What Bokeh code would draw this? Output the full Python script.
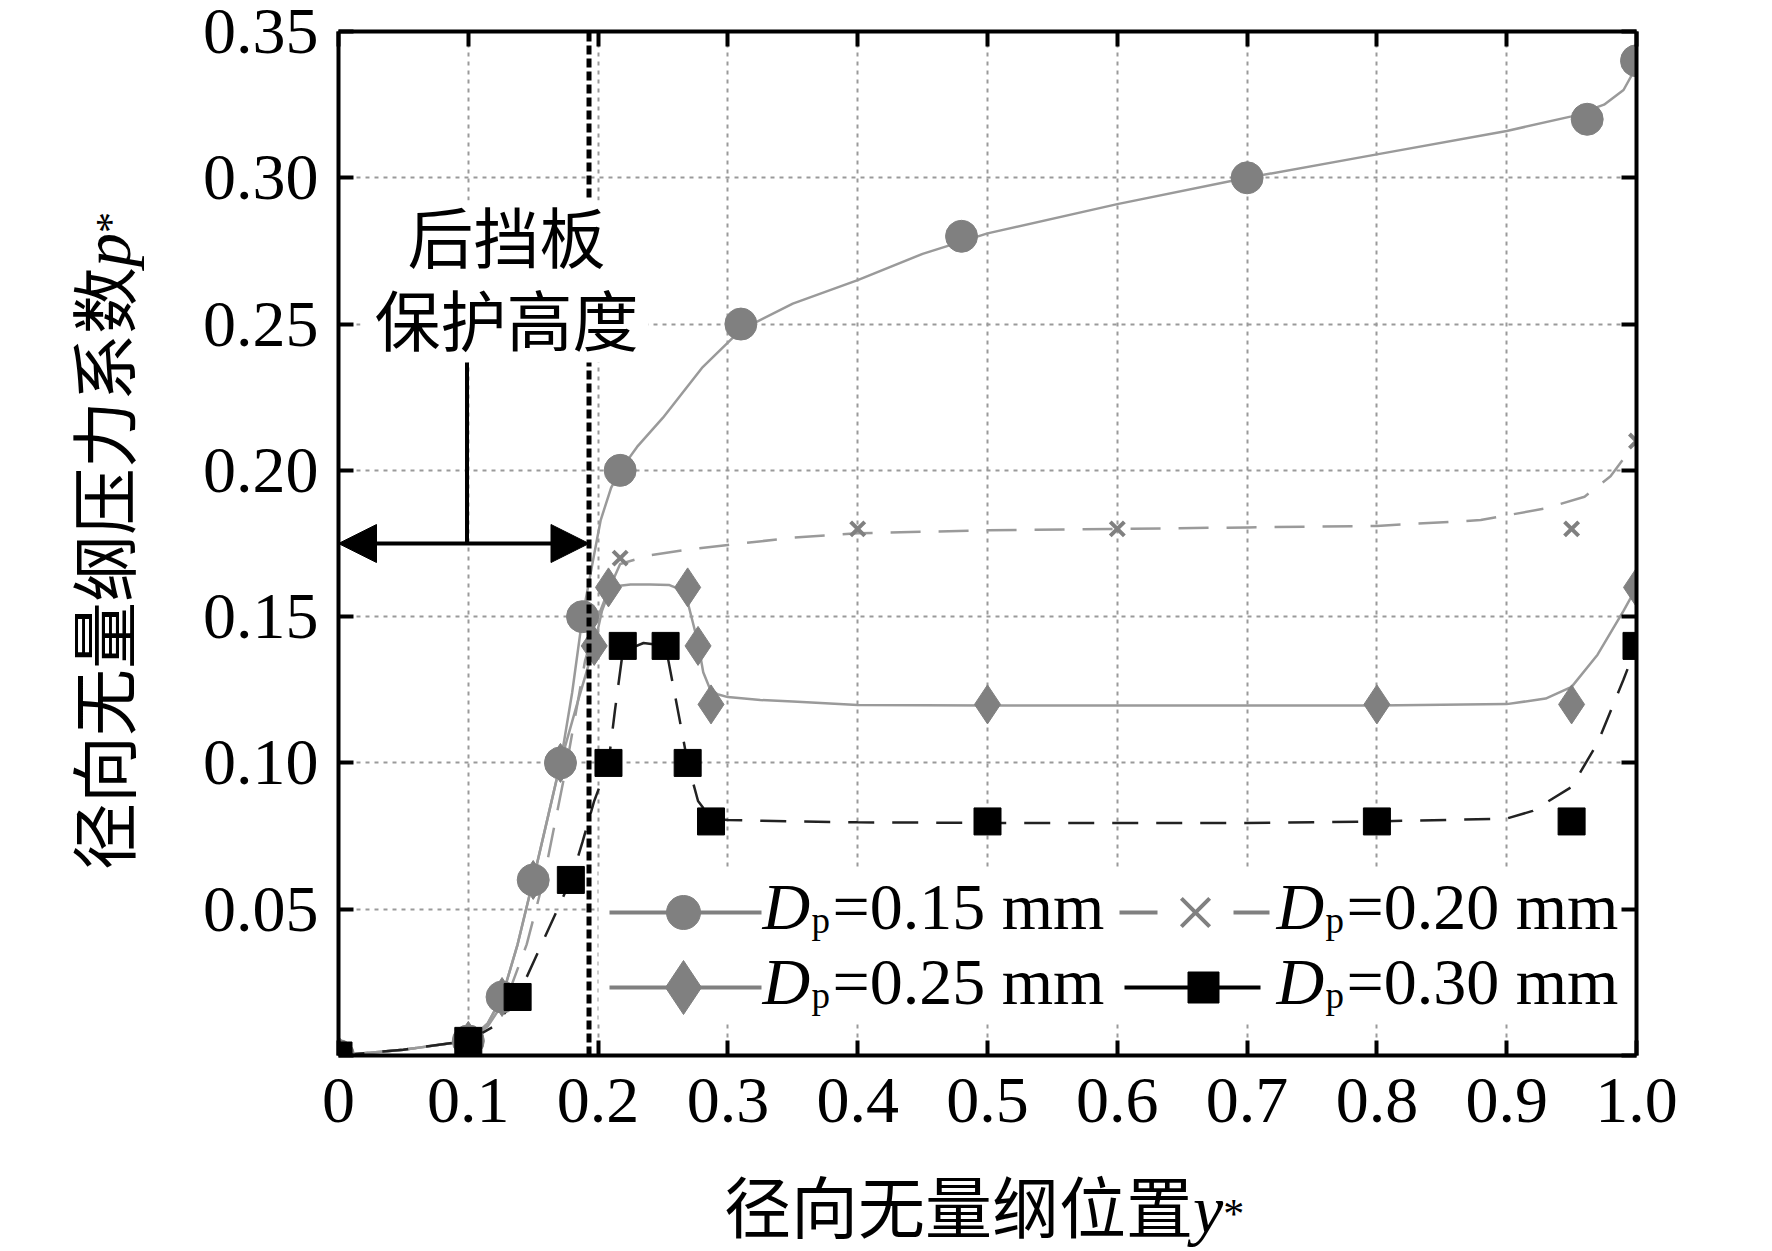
import math
from bokeh.plotting import figure
from bokeh.models import (Range1d, FixedTicker, LinearAxis, Label, Arrow,
                          NormalHead, CustomJSTickFormatter, Div)
from bokeh.layouts import row, column
from bokeh.embed import file_html
from bokeh.resources import INLINE

# ---------------- data ----------------
# marker points  (radial dimensionless position y*, pressure coefficient p*)
pos_015 = [0.0, 0.1, 0.126, 0.150, 0.171, 0.188, 0.217, 0.31, 0.48, 0.70, 0.962, 1.0]
val_015 = [0.0, 0.005, 0.020, 0.060, 0.100, 0.150, 0.200, 0.250, 0.280, 0.300, 0.320, 0.340]

pos_020 = [0.0, 0.1, 0.126, 0.150, 0.171, 0.217, 0.40, 0.60, 0.95, 1.0]
val_020 = [0.0, 0.005, 0.020, 0.060, 0.100, 0.170, 0.180, 0.180, 0.180, 0.210]

pos_025 = [0.0, 0.1, 0.126, 0.150, 0.171, 0.197, 0.208, 0.269, 0.277, 0.287, 0.50, 0.80, 0.95, 1.0]
val_025 = [0.0, 0.005, 0.020, 0.060, 0.100, 0.140, 0.160, 0.160, 0.140, 0.120, 0.120, 0.120, 0.120, 0.160]

pos_030 = [0.0, 0.1, 0.138, 0.179, 0.208, 0.219, 0.252, 0.269, 0.287, 0.50, 0.80, 0.95, 1.0]
val_030 = [0.0, 0.005, 0.020, 0.060, 0.100, 0.140, 0.140, 0.100, 0.080, 0.080, 0.080, 0.080, 0.140]

# fitted curves
curve_x_015 = [0, 0.05, 0.1, 0.115, 0.126, 0.138, 0.15, 0.16, 0.171, 0.18, 0.188, 0.196, 0.202,
               0.21, 0.217, 0.23, 0.25, 0.28, 0.31, 0.35, 0.40, 0.45, 0.50, 0.60, 0.70, 0.80,
               0.90, 0.95, 0.975, 0.99, 1.0]
curve_y_015 = [0, 0.002, 0.005, 0.011, 0.02, 0.038, 0.06, 0.079, 0.10, 0.124, 0.15, 0.169, 0.183,
               0.194, 0.20, 0.208, 0.218, 0.235, 0.248, 0.257, 0.265, 0.274, 0.281, 0.291, 0.300,
               0.308, 0.316, 0.321, 0.325, 0.330, 0.338]

curve_x_020 = [0, 0.05, 0.1, 0.115, 0.13, 0.145, 0.158, 0.176, 0.19, 0.2, 0.207, 0.212, 0.217,
               0.24, 0.27, 0.30, 0.35, 0.40, 0.50, 0.60, 0.70, 0.80, 0.88, 0.93, 0.96, 0.98, 1.0]
curve_y_020 = [0, 0.002, 0.005, 0.01, 0.02, 0.038, 0.06, 0.10, 0.135, 0.150, 0.158, 0.163, 0.168,
               0.171, 0.173, 0.1745, 0.177, 0.1785, 0.1795, 0.1800, 0.1805, 0.1810, 0.1830,
               0.1870, 0.1910, 0.1980, 0.2100]

curve_x_025 = [0, 0.05, 0.1, 0.115, 0.126, 0.138, 0.15, 0.16, 0.171, 0.185, 0.197, 0.203, 0.208,
               0.215, 0.225, 0.24, 0.255, 0.265, 0.269, 0.273, 0.277, 0.281, 0.286, 0.292, 0.30,
               0.325, 0.35, 0.40, 0.50, 0.60, 0.70, 0.80, 0.90, 0.93, 0.95, 0.97, 0.99, 1.0]
curve_y_025 = [0, 0.002, 0.005, 0.011, 0.02, 0.038, 0.06, 0.079, 0.10, 0.122, 0.14, 0.152, 0.158,
               0.1605, 0.161, 0.161, 0.1608, 0.159, 0.155, 0.148, 0.141, 0.131, 0.1255, 0.1235,
               0.1225, 0.1215, 0.121, 0.1198, 0.1196, 0.1196, 0.1196, 0.1196, 0.1201, 0.122,
               0.126, 0.137, 0.152, 0.160]

curve_x_030 = [0, 0.05, 0.1, 0.12, 0.138, 0.158, 0.179, 0.188, 0.197, 0.208, 0.213, 0.219, 0.235,
               0.252, 0.258, 0.264, 0.269, 0.277, 0.287, 0.30, 0.35, 0.40, 0.50, 0.60, 0.70, 0.80,
               0.90, 0.92, 0.95, 0.97, 0.99, 1.0]
curve_y_030 = [0, 0.002, 0.005, 0.01, 0.02, 0.0395, 0.06, 0.073, 0.087, 0.10, 0.118, 0.138, 0.141,
               0.14, 0.126, 0.112, 0.10, 0.087, 0.081, 0.0805, 0.08, 0.0797, 0.0795, 0.0795,
               0.0795, 0.08, 0.081, 0.0836, 0.0918, 0.1068, 0.1285, 0.14]

x_ticks = [0.0, 0.1, 0.2, 0.3, 0.4, 0.5, 0.6, 0.7, 0.8, 0.9, 1.0]
x_tick_labels = ["0", "0.1", "0.2", "0.3", "0.4", "0.5", "0.6", "0.7", "0.8", "0.9", "1.0"]
y_ticks = [0.0, 0.05, 0.10, 0.15, 0.20, 0.25, 0.30, 0.35]
y_tick_labels = ["", "0.05", "0.10", "0.15", "0.20", "0.25", "0.30", "0.35"]

legend_values = ["=0.15 mm", "=0.20 mm", "=0.25 mm", "=0.30 mm"]
baffle_position = 0.193      # protective height of the rear baffle
baffle_lines = ["后挡板", "保护高度"]
x_label_cn = "径向无量纲位置"
y_label_cn = "径向无量纲压力系数"

# ---------------- layout (reference pixels) ----------------
FL, FR, FT, FB = 338, 1636, 31, 1055      # plot frame
FW, FH = FR - FL, FB - FT
YLAB_W = 170                               # width of the y-title strip
PLOT_H = 1150                              # height of the figure itself
TOTAL_W, TOTAL_H = 1756, 1235


def dx(px):
    return (px - FL) / FW


def dy(py):
    return (FB - py) / FH * 0.35


SERIF = "Liberation Serif"
CJK = "Noto Sans CJK SC"
GRAY_M = "#808080"
GRAY_L = "#9a9a9a"

plot_w = TOTAL_W - YLAB_W
left_border = FL - YLAB_W
p = figure(frame_width=FW, frame_height=FH,
           x_range=Range1d(0, 1.0), y_range=Range1d(0, 0.35),
           output_backend="svg", toolbar_location=None,
           min_border_left=left_border, min_border_right=plot_w - left_border - FW,
           min_border_top=FT, min_border_bottom=PLOT_H - FT - FH,
           background_fill_color="white", border_fill_color="white")
p.outline_line_color = None

# grid
p.xgrid.ticker = FixedTicker(ticks=x_ticks)
p.ygrid.ticker = FixedTicker(ticks=y_ticks)
for g in p.grid:
    g.grid_line_color = "#9a9a9a"
    g.grid_line_width = 2
    g.grid_line_dash = "4 5"

# axes
bottom_ax = p.below[0]
left_ax = p.left[0]
blank = CustomJSTickFormatter(code="return '';")
top_ax = LinearAxis(formatter=blank)
right_ax = LinearAxis(formatter=blank)
p.add_layout(top_ax, "above")
p.add_layout(right_ax, "right")

bottom_ax.formatter = CustomJSTickFormatter(args=dict(tk=x_ticks, lb=x_tick_labels), code="""
const i = tk.findIndex(t => Math.abs(t - tick) < 1e-9); return i >= 0 ? lb[i] : "";""")
left_ax.formatter = CustomJSTickFormatter(args=dict(tk=y_ticks, lb=y_tick_labels), code="""
const i = tk.findIndex(t => Math.abs(t - tick) < 1e-9); return i >= 0 ? lb[i] : "";""")
for ax in (bottom_ax, top_ax):
    ax.ticker = FixedTicker(ticks=x_ticks)
for ax in (left_ax, right_ax):
    ax.ticker = FixedTicker(ticks=y_ticks)
for ax in (bottom_ax, left_ax, top_ax, right_ax):
    ax.axis_line_width = 4
    ax.axis_line_color = "black"
    ax.major_tick_in = 15
    ax.major_tick_out = 0
    ax.major_tick_line_width = 4
    ax.major_tick_line_color = "black"
    ax.minor_tick_line_color = None
    ax.major_label_text_font = SERIF
    ax.major_label_text_font_size = "66px"
    ax.major_label_text_color = "black"
for ax in (top_ax, right_ax):
    ax.major_label_text_font_size = "8px"
    ax.major_label_standoff = 0
bottom_ax.major_label_standoff = 23
left_ax.major_label_standoff = 20

# legend background (hides the grid behind the legend)
p.quad(left=[dx(598)], right=[1.0], bottom=[dy(1022)], top=[dy(868)],
       fill_color="white", line_color=None)

# curves
p.line(curve_x_015, curve_y_015, line_color=GRAY_L, line_width=2.5, line_join="round")
p.line(curve_x_020, curve_y_020, line_color=GRAY_L, line_width=2.5, line_dash="30 18")
p.line(curve_x_025, curve_y_025, line_color=GRAY_L, line_width=2.5, line_join="round")
p.line(curve_x_030, curve_y_030, line_color="#222222", line_width=2.5, line_dash="26 18")

# markers
p.scatter(pos_015, val_015, marker="circle", size=32, fill_color=GRAY_M, line_color=GRAY_M)
p.scatter(pos_020, val_020, marker="x", size=20, line_color=GRAY_M, line_width=4)
p.scatter(pos_025, val_025, marker="diamond", size=39, fill_color=GRAY_M, line_color=GRAY_M)
p.scatter(pos_030, val_030, marker="square", size=27, fill_color="black", line_color="black")

# ---------------- baffle annotation ----------------
# dashed line marking the protective height, drawn over the data marks
p.line([baffle_position, baffle_position], [0, 0.35], line_color="black",
       line_width=5, line_dash="9 4")
# white box behind the annotation text
p.quad(left=[dx(360)], right=[dx(648)], bottom=[dy(362)], top=[dy(200)],
       fill_color="white", line_color=None)
p.segment(x0=[0.099], y0=[0.175], x1=[0.099], y1=[dy(362)], line_color="black", line_width=4)
p.add_layout(Arrow(start=NormalHead(size=38, fill_color="black", line_color="black"),
                   end=NormalHead(size=38, fill_color="black", line_color="black"),
                   x_start=0.0, y_start=0.175, x_end=baffle_position, y_end=0.175,
                   line_color="black", line_width=4))
for txt, cy in zip(baffle_lines, [233, 316]):
    p.add_layout(Label(x=dx(506), y=dy(cy), text=txt, text_font=CJK,
                       text_font_size="66px", text_align="center", text_baseline="middle",
                       text_color="black"))

# ---------------- legend (drawn by hand for the subscript) ----------------
row_y = [912, 987]
col_text_x = [762, 1276]
for r in range(2):
    p.line([dx(609), dx(761)], [dy(row_y[r])] * 2, line_color=GRAY_M, line_width=4)
p.scatter([dx(683)], [dy(row_y[0])], marker="circle", size=34, fill_color=GRAY_M, line_color=GRAY_M)
p.scatter([dx(683)], [dy(row_y[1])], marker="diamond", size=54, fill_color=GRAY_M, line_color=GRAY_M)
p.multi_line([[dx(1119), dx(1157)], [dx(1233), dx(1269)]],
             [[dy(row_y[0])] * 2, [dy(row_y[0])] * 2], line_color=GRAY_M, line_width=4)
p.scatter([dx(1195)], [dy(row_y[0])], marker="x", size=40, line_color=GRAY_M, line_width=4)
p.line([dx(1124), dx(1260)], [dy(row_y[1])] * 2, line_color="black", line_width=4)
p.scatter([dx(1203)], [dy(row_y[1])], marker="square", size=31, fill_color="black", line_color="black")

entries = [(0, 0, legend_values[0]), (1, 0, legend_values[1]),
           (0, 1, legend_values[2]), (1, 1, legend_values[3])]
for col, rw, txt in entries:
    bx = col_text_x[col]
    base = row_y[rw] - 6
    p.add_layout(Label(x=dx(bx), y=dy(base), text="D", text_font=SERIF, text_font_style="italic",
                       text_font_size="66px", text_align="left", text_baseline="alphabetic",
                       text_color="black"))
    p.add_layout(Label(x=dx(bx + 49), y=dy(base + 14), text="p", text_font=SERIF,
                       text_font_size="37px", text_align="left", text_baseline="alphabetic",
                       text_color="black"))
    p.add_layout(Label(x=dx(bx + 70), y=dy(base), text=txt, text_font=SERIF,
                       text_font_size="66px", text_align="left", text_baseline="alphabetic",
                       text_color="black"))

# ---------------- axis titles (HTML, for italic / superscript parts) ----------------
CJK_PX = 67
ylab_html = (
    f'<div style="position:relative; left:67px; top:870px; width:max-content; '
    f'white-space:nowrap; line-height:{CJK_PX}px; color:black; transform-origin:0 0; '
    'transform:rotate(-90deg);">'
    f'<span style="font-family:\'{CJK}\'; font-size:{CJK_PX}px;">{y_label_cn}</span>'
    f'<span style="font-family:\'{SERIF}\'; font-style:italic; font-size:68px;">p</span>'
    f'<sup style="font-family:\'{SERIF}\'; font-size:42px; line-height:0;">*</sup></div>'
)
xlab_html = (
    f'<div style="position:relative; left:{724 - YLAB_W}px; top:20px; width:max-content; '
    f'white-space:nowrap; line-height:{CJK_PX}px; color:black;">'
    f'<span style="font-family:\'{CJK}\'; font-size:{CJK_PX}px;">{x_label_cn}</span>'
    f'<span style="font-family:\'{SERIF}\'; font-style:italic; font-size:68px;">y</span>'
    f'<sup style="font-family:\'{SERIF}\'; font-size:42px; line-height:0;">*</sup></div>'
)
ylab = Div(text=ylab_html, width=YLAB_W, height=TOTAL_H, margin=0)
xlab = Div(text=xlab_html, width=plot_w, height=TOTAL_H - PLOT_H, margin=0)

layout = row(ylab, column(p, xlab, spacing=0), spacing=0)
open("out.html", "w").write(file_html(layout, INLINE))
